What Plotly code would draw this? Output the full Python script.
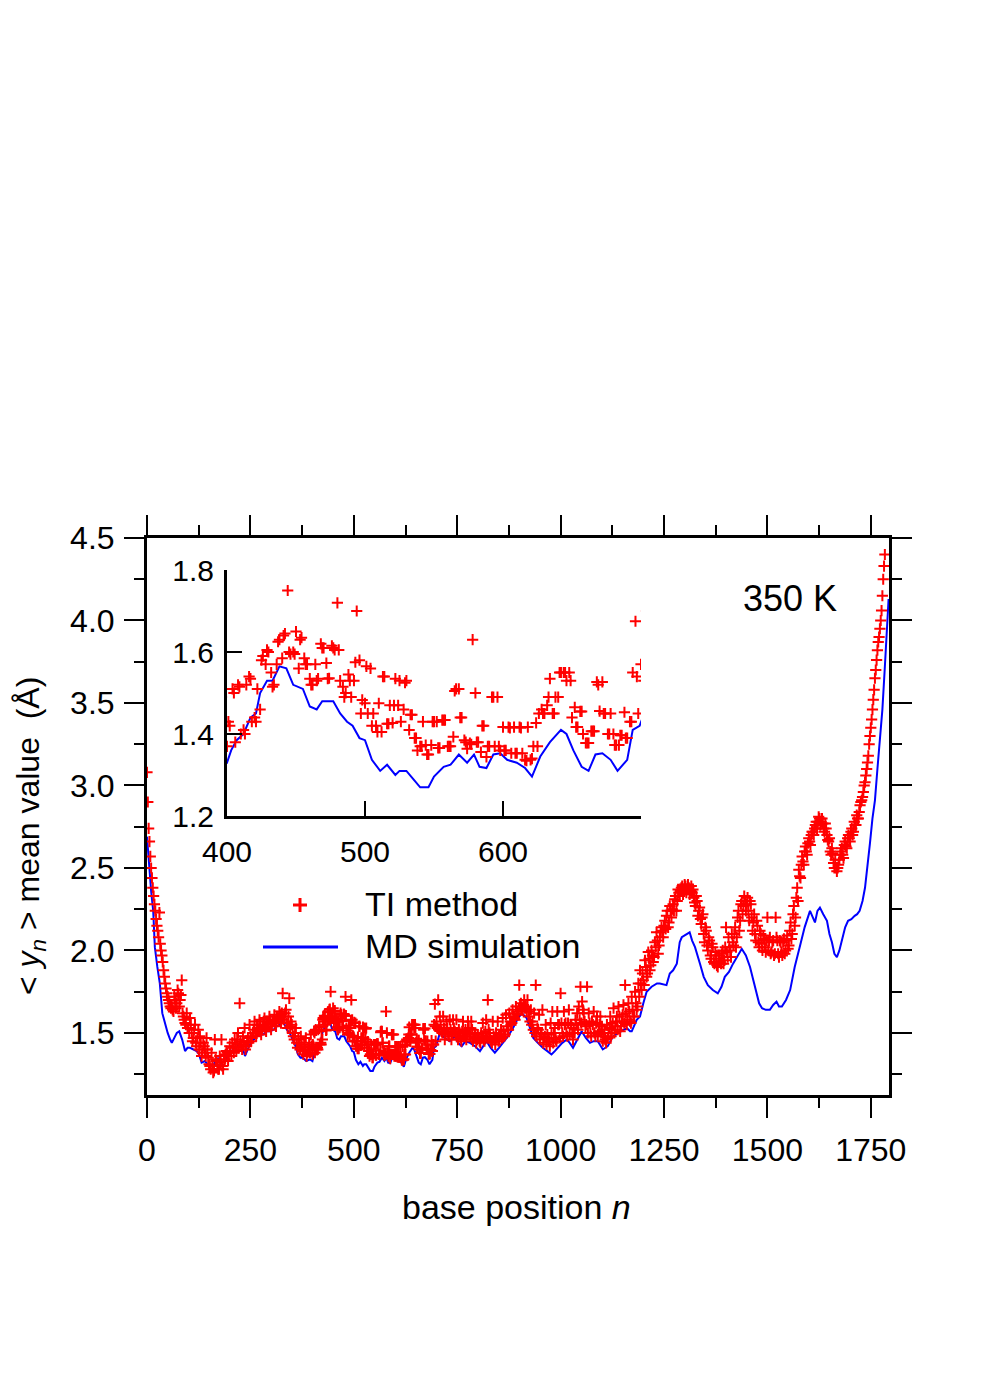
import plotly.graph_objects as go

# ---------------- data ----------------
md_n = [0, 5, 10, 15, 19, 25, 31, 37, 43, 50,
        56, 60, 66, 72, 78, 85, 92, 98, 104, 112,
        120, 126, 132, 140, 146, 152, 158, 164, 168, 172,
        178, 186, 193, 200, 208, 216, 225, 231, 237, 245,
        254, 262, 270, 281, 290, 298, 306, 314, 320, 326,
        332, 338, 345, 353, 359, 365, 371, 377, 385, 394,
        400, 403, 407, 412, 417, 421, 424, 429, 433, 438,
        443, 448, 455, 460, 465, 469, 477, 482, 487, 491,
        496, 500, 505, 511, 516, 522, 525, 530, 535, 540,
        546, 550, 557, 562, 568, 574, 579, 583, 588, 593,
        598, 603, 610, 616, 621, 627, 634, 642, 646, 651,
        657, 662, 667, 672, 678, 683, 690, 694, 699, 708,
        720, 732, 744, 752, 761, 770, 781, 793, 805, 813,
        821, 831, 841, 851, 861, 873, 885, 895, 906, 918,
        926, 934, 945, 957, 968, 978, 986, 994, 1004, 1015,
        1022, 1030, 1040, 1051, 1061, 1071, 1080, 1090, 1102, 1114,
        1127, 1140, 1151, 1160, 1168, 1172, 1184, 1192, 1200, 1208,
        1220, 1233, 1240, 1252, 1256, 1264, 1272, 1281, 1288, 1293,
        1300, 1312, 1318, 1325, 1337, 1346, 1356, 1368, 1380, 1389,
        1397, 1407, 1417, 1428, 1438, 1448, 1458, 1466, 1474, 1480,
        1487, 1496, 1506, 1514, 1522, 1528, 1535, 1545, 1555, 1566,
        1578, 1590, 1603, 1609, 1615, 1621, 1627, 1635, 1644, 1650,
        1656, 1662, 1668, 1674, 1680, 1688, 1695, 1703, 1711, 1717,
        1723, 1730, 1736, 1742, 1748, 1754, 1760, 1766, 1772, 1778,
        1784, 1789, 1793]

md_y = [2.69, 2.50, 2.36, 2.24, 2.02, 1.90, 1.80, 1.62, 1.56, 1.50,
        1.46, 1.44, 1.47, 1.50, 1.51, 1.46, 1.39, 1.41, 1.41, 1.40,
        1.39, 1.37, 1.32, 1.33, 1.31, 1.29, 1.27, 1.33, 1.30, 1.35,
        1.31, 1.33, 1.35, 1.38, 1.40, 1.41, 1.44, 1.41, 1.36, 1.41,
        1.45, 1.47, 1.49, 1.49, 1.51, 1.51, 1.52, 1.54, 1.55, 1.59,
        1.55, 1.52, 1.50, 1.46, 1.42, 1.37, 1.35, 1.35, 1.33, 1.34,
        1.33, 1.36, 1.385, 1.40, 1.44, 1.45, 1.50, 1.53, 1.53, 1.565,
        1.56, 1.52, 1.51, 1.467, 1.46, 1.48, 1.48, 1.45, 1.43, 1.42,
        1.39, 1.385, 1.337, 1.31, 1.325, 1.30, 1.31, 1.31, 1.29, 1.27,
        1.27, 1.296, 1.32, 1.325, 1.35, 1.33, 1.35, 1.32, 1.317, 1.35,
        1.353, 1.337, 1.33, 1.317, 1.296, 1.345, 1.38, 1.41, 1.40, 1.36,
        1.32, 1.31, 1.35, 1.353, 1.337, 1.31, 1.337, 1.41, 1.42, 1.50,
        1.47, 1.45, 1.48, 1.44, 1.42, 1.45, 1.44, 1.42, 1.39, 1.42,
        1.45, 1.41, 1.38, 1.41, 1.44, 1.48, 1.53, 1.58, 1.62, 1.59,
        1.53, 1.47, 1.44, 1.41, 1.39, 1.37, 1.39, 1.41, 1.44, 1.46,
        1.44, 1.41, 1.46, 1.51, 1.47, 1.44, 1.45, 1.45, 1.40, 1.42,
        1.48, 1.50, 1.52, 1.53, 1.51, 1.51, 1.58, 1.60, 1.68, 1.75,
        1.78, 1.80, 1.80, 1.79, 1.79, 1.86, 1.88, 1.92, 2.05, 2.08,
        2.09, 2.11, 2.06, 2.02, 1.92, 1.84, 1.79, 1.76, 1.74, 1.78,
        1.84, 1.87, 1.92, 1.97, 2.01, 1.97, 1.90, 1.82, 1.74, 1.68,
        1.65, 1.64, 1.64, 1.67, 1.69, 1.66, 1.66, 1.70, 1.76, 1.90,
        2.02, 2.14, 2.24, 2.20, 2.17, 2.24, 2.26, 2.22, 2.18, 2.10,
        2.05, 1.98, 1.96, 2.00, 2.06, 2.14, 2.18, 2.19, 2.21, 2.22,
        2.24, 2.30, 2.38, 2.50, 2.65, 2.80, 2.91, 3.10, 3.28, 3.46,
        3.72, 3.95, 4.13]

# TI method: bases 0..58, every 2nd base
ti_start_first, ti_start_step = 0, 2
ti_y_start = [3.08, 2.90, 2.74, 2.66, 2.57, 2.50, 2.44, 2.38, 2.33, 2.28,
              2.24, 2.19, 2.15, 2.12, 2.08, 2.23, 2.04, 2.00, 1.97, 1.93,
              1.88, 1.84, 1.80, 1.77, 1.74, 1.72, 1.70, 1.68, 1.66, 1.65]

# TI method: bases 60..396, every 4th base
ti_left_first, ti_left_step = 60, 4
ti_y_left = [1.66, 1.63, 1.70, 1.68, 1.74, 1.70, 1.82, 1.60, 1.56, 1.62,
             1.53, 1.59, 1.50, 1.47, 1.55, 1.42, 1.52, 1.48, 1.36, 1.44,
             1.40, 1.47, 1.35, 1.30, 1.38, 1.26, 1.46, 1.33, 1.28, 1.36,
             1.46, 1.28, 1.34, 1.39, 1.33, 1.42, 1.36, 1.41, 1.46, 1.39,
             1.50, 1.68, 1.43, 1.48, 1.53, 1.42, 1.47, 1.55, 1.45, 1.50,
             1.57, 1.48, 1.53, 1.58, 1.49, 1.54, 1.59, 1.51, 1.56, 1.60,
             1.52, 1.57, 1.61, 1.54, 1.59, 1.63, 1.56, 1.74, 1.60, 1.64,
             1.53, 1.71, 1.57, 1.50, 1.46, 1.53, 1.41, 1.44, 1.48, 1.39,
             1.43, 1.47, 1.38, 1.44, 1.49]

# TI method: bases 62..398, every 4th base (interleaved)
ti_left_b_first, ti_left_b_step = 62, 4
ti_y_left_b = [1.64, 1.72, 1.65, 1.76, 1.66, 1.73, 1.62, 1.58, 1.55, 1.53,
               1.50, 1.55, 1.45, 1.52, 1.44, 1.47, 1.40, 1.44, 1.38, 1.42,
               1.36, 1.40, 1.31,
               1.28, 1.30, 1.27, 1.34, 1.30, 1.28, 1.32, 1.30, 1.36, 1.37,
               1.38, 1.36,
               1.39, 1.44, 1.38, 1.42, 1.46, 1.41, 1.45, 1.40, 1.44, 1.40,
               1.45, 1.44, 1.48, 1.47, 1.52,
               1.50, 1.55, 1.51, 1.55, 1.52, 1.57, 1.53, 1.57, 1.54, 1.58,
               1.55, 1.58, 1.56, 1.60, 1.57, 1.61, 1.62, 1.58,
               1.62, 1.56, 1.60, 1.54, 1.55, 1.48, 1.50, 1.44, 1.46, 1.40,
               1.42, 1.37, 1.40, 1.36, 1.41, 1.38, 1.42]

# TI method: bases 400..698, every 2nd base (inset region)
ti_mid_first, ti_mid_step = 400, 2
ti_y_mid = [1.37, 1.42, 1.51, 1.38, 1.52, 1.40, 1.41, 1.52, 1.54, 1.43,
            1.44, 1.51, 1.46, 1.59, 1.57, 1.60, 1.55, 1.52, 1.57, 1.63,
            1.585, 1.645, 1.75, 1.595, 1.60, 1.65, 1.56, 1.635, 1.585, 1.57,
            1.535, 1.52, 1.57, 1.535, 1.62, 1.61, 1.573, 1.536, 1.615, 1.605,
            1.72, 1.53, 1.515, 1.50, 1.545, 1.49, 1.53, 1.70, 1.58, 1.483,
            1.475, 1.45, 1.56, 1.45, 1.42, 1.475, 1.405, 1.54, 1.425, 1.47,
            1.427, 1.535, 1.47, 1.43, 1.46, 1.53, 1.41, 1.447, 1.39, 1.36,
            1.37, 1.43, 1.373, 1.35, 1.373, 1.43, 1.43, 1.366, 1.434, 1.434,
            1.37, 1.37, 1.393, 1.51, 1.51, 1.44, 1.385, 1.364, 1.378, 1.63,
            1.50, 1.38, 1.356, 1.42, 1.344, 1.37, 1.49, 1.37, 1.49, 1.36,
            1.417, 1.36, 1.417, 1.353, 1.417, 1.353, 1.417, 1.353, 1.337, 1.417,
            1.337, 1.37, 1.427, 1.45, 1.46, 1.45, 1.47, 1.535, 1.45, 1.49,
            1.49, 1.55, 1.55, 1.53, 1.55, 1.44, 1.465, 1.417, 1.455, 1.40,
            1.378, 1.378, 1.407, 1.407, 1.527, 1.456, 1.527, 1.45, 1.40, 1.45,
            1.40, 1.373, 1.373, 1.397, 1.453, 1.39, 1.43, 1.55, 1.675, 1.45]

# TI method: bases 401..697, every 4th base (inset region, interleaved)
ti_mid_b_first, ti_mid_b_step = 401, 4
ti_y_mid_b = [1.43, 1.50, 1.515, 1.40, 1.535, 1.43, 1.58, 1.605, 1.515, 1.625,
              1.64, 1.60, 1.595, 1.63, 1.57, 1.52, 1.53, 1.61, 1.535, 1.61,
              1.605, 1.49, 1.53, 1.575, 1.45, 1.565, 1.42, 1.405, 1.54, 1.425,
              1.47, 1.53, 1.525, 1.447, 1.39, 1.37, 1.35, 1.43, 1.366, 1.434,
              1.37, 1.505, 1.44, 1.38, 1.375, 1.38, 1.42, 1.37, 1.49, 1.37,
              1.36, 1.415, 1.353, 1.415, 1.335, 1.34, 1.37, 1.45, 1.49, 1.45,
              1.55, 1.55, 1.53, 1.417, 1.455, 1.378, 1.407, 1.52, 1.45, 1.40,
              1.373, 1.397, 1.39, 1.43, 1.54]

# TI method: bases 700..1784, every 4th base
ti_right_first, ti_right_step = 700, 4
ti_y_right = [1.57, 1.70, 1.60, 1.51, 1.60, 1.46, 1.57, 1.50, 1.58, 1.46,
              1.58, 1.51, 1.58, 1.46, 1.50, 1.45, 1.57, 1.50, 1.46, 1.57,
              1.50, 1.57, 1.45, 1.50, 1.44, 1.49, 1.45, 1.50, 1.56, 1.45,
              1.58, 1.70, 1.50, 1.45, 1.57, 1.46, 1.50, 1.57, 1.46, 1.52,
              1.59, 1.48, 1.61, 1.52, 1.62, 1.55, 1.64, 1.59, 1.66, 1.62,
              1.79, 1.68, 1.65, 1.70, 1.66, 1.70, 1.63, 1.64, 1.57, 1.62,
              1.79, 1.53, 1.61, 1.50, 1.64, 1.47, 1.55, 1.49, 1.45, 1.56,
              1.63, 1.50, 1.46, 1.63, 1.55, 1.74, 1.50, 1.63, 1.56, 1.48,
              1.64, 1.55, 1.50, 1.53, 1.58, 1.62, 1.66, 1.78, 1.69, 1.62,
              1.54, 1.78, 1.62, 1.50, 1.57, 1.63, 1.48, 1.60, 1.51, 1.60,
              1.54, 1.48, 1.46, 1.55, 1.50, 1.60, 1.52, 1.65, 1.54, 1.60,
              1.66, 1.51, 1.57, 1.67, 1.79, 1.55, 1.68, 1.57, 1.72, 1.60,
              1.75, 1.64, 1.80, 1.88, 1.76, 1.82, 1.94, 1.84, 1.99, 1.88,
              2.00, 1.93, 2.05, 2.11, 1.98, 2.08, 2.14, 2.08, 2.18, 2.21,
              2.14, 2.27, 2.20, 2.28, 2.31, 2.24, 2.37, 2.33, 2.38, 2.34,
              2.40, 2.35, 2.40, 2.34, 2.39, 2.37, 2.29, 2.33, 2.21, 2.26,
              2.16, 2.22, 2.05, 2.12, 2.00, 2.06, 1.95, 2.02, 1.92, 1.97,
              1.90, 1.95, 1.92, 2.00, 1.94, 2.14, 1.96, 2.02, 1.96, 2.05,
              2.10, 2.02, 2.20, 2.12, 2.28, 2.22, 2.33, 2.24, 2.32, 2.18,
              2.28, 2.12, 2.22, 2.06, 2.15, 2.02, 2.10, 2.00, 2.07, 1.99,
              2.20, 2.06, 1.98, 2.05, 1.97, 2.20, 2.06, 1.96, 2.05, 1.97,
              2.07, 2.00, 2.09, 2.03, 2.17, 2.10, 2.27, 2.20, 2.38, 2.49,
              2.44, 2.57, 2.52, 2.63, 2.58, 2.68, 2.64, 2.72, 2.70, 2.76,
              2.74, 2.81, 2.76, 2.80, 2.74, 2.77, 2.70, 2.66, 2.60, 2.62,
              2.53, 2.55, 2.48, 2.52, 2.58, 2.62, 2.56, 2.66, 2.62, 2.70,
              2.66, 2.74, 2.72, 2.76, 2.82, 2.80, 2.88, 2.91, 2.96, 3.02,
              3.10, 3.18, 3.30, 3.40, 3.52, 3.65, 3.76, 3.87, 3.95, 4.06,
              4.25, 4.40]

# TI method: bases 702..1782, every 4th base (interleaved)
ti_right_b_first, ti_right_b_step = 702, 4
ti_y_right_b = [1.53, 1.52, 1.55, 1.50, 1.53,
                1.49, 1.53, 1.48, 1.52, 1.49, 1.53, 1.50, 1.48, 1.52, 1.47,
                1.51, 1.48, 1.52, 1.49, 1.53, 1.48, 1.52, 1.47, 1.50, 1.46,
                1.47, 1.44, 1.48, 1.46, 1.51, 1.48, 1.52, 1.47, 1.44, 1.48,
                1.43, 1.47, 1.45,
                1.49, 1.47, 1.51, 1.49, 1.54, 1.52, 1.57, 1.56, 1.60, 1.58,
                1.63, 1.61, 1.66, 1.64, 1.67, 1.65, 1.63, 1.60,
                1.57, 1.55, 1.52, 1.50, 1.48, 1.52, 1.46, 1.50, 1.44, 1.48,
                1.43, 1.47,
                1.42, 1.50, 1.44, 1.53, 1.45, 1.55, 1.47, 1.56, 1.48, 1.55,
                1.50, 1.56, 1.49, 1.55, 1.46,
                1.50, 1.55, 1.52, 1.58, 1.56, 1.64, 1.57, 1.55,
                1.50, 1.56, 1.48, 1.55, 1.50, 1.56, 1.49, 1.55, 1.50, 1.45,
                1.52, 1.44,
                1.47, 1.53, 1.48, 1.56, 1.50, 1.57, 1.52, 1.60, 1.54, 1.61,
                1.56, 1.62, 1.58, 1.63, 1.56, 1.64, 1.60, 1.68, 1.66, 1.72,
                1.80, 1.86, 1.79, 1.90, 1.86, 1.95, 1.91, 1.97, 1.96, 2.02,
                2.06, 2.03, 2.11, 2.12, 2.15, 2.13, 2.24, 2.17, 2.24, 2.25,
                2.24, 2.33, 2.30,
                2.35, 2.36, 2.39, 2.36, 2.39, 2.37, 2.38, 2.36, 2.35, 2.32,
                2.27, 2.30, 2.24, 2.19, 2.20, 2.10, 2.14, 2.03, 2.08, 1.97,
                2.04, 1.93, 1.99, 1.91,
                1.97, 1.93, 1.98, 1.92, 2.02, 1.99, 2.08, 2.00, 2.10, 2.03,
                2.14, 2.08, 2.24, 2.18, 2.30, 2.27, 2.30, 2.28, 2.24, 2.30,
                2.20,
                2.17, 2.10, 2.18, 2.05, 2.12, 2.04, 2.09, 2.02, 2.06, 2.00,
                2.08, 1.99, 2.06, 1.98, 2.08, 1.98, 2.06, 1.99, 2.05, 1.98,
                2.06, 2.01,
                2.12, 2.07, 2.22, 2.15, 2.32, 2.30, 2.45,
                2.52, 2.54, 2.60, 2.60, 2.65, 2.66, 2.70, 2.72, 2.74, 2.78,
                2.78, 2.80,
                2.78, 2.77, 2.72, 2.74, 2.67, 2.68, 2.58, 2.59, 2.50, 2.50,
                2.50, 2.55, 2.60, 2.58, 2.64, 2.63, 2.68, 2.68, 2.72, 2.70,
                2.78, 2.76, 2.80, 2.84, 2.90, 2.93,
                3.00, 3.06, 3.14, 3.25, 3.35, 3.46, 3.58, 3.70, 3.82, 3.90,
                4.00, 4.15, 4.33]

x_ticks = [0, 250, 500, 750, 1000, 1250, 1500, 1750]
y_ticks = [1.5, 2.0, 2.5, 3.0, 3.5, 4.0, 4.5]
inset_x_ticks = [400, 500, 600]
inset_y_ticks = [1.2, 1.4, 1.6, 1.8]

# ---------------- assemble ----------------
ti_n, ti_y = [], []
for first, step, vals in [(ti_start_first, ti_start_step, ti_y_start),
                          (ti_left_first, ti_left_step, ti_y_left),
                          (ti_left_b_first, ti_left_b_step, ti_y_left_b),
                          (ti_mid_first, ti_mid_step, ti_y_mid),
                          (ti_mid_b_first, ti_mid_b_step, ti_y_mid_b),
                          (ti_right_first, ti_right_step, ti_y_right),
                          (ti_right_b_first, ti_right_b_step, ti_y_right_b)]:
    ti_n += [first + step * i for i in range(len(vals))]
    ti_y += vals

m = min(len(md_n), len(md_y))
md_n, md_y = md_n[:m], md_y[:m]

FONT = "Liberation Sans, Arial, Helvetica, sans-serif"
RED = "#ff0000"
BLUE = "#0000ff"

# page body has an 8px default margin; compensate so the figure lands in place
OFF = 8
W, H = 981 - OFF, 1379 - OFF
PL, PR, PT, PB = 147, 889, 538, 1095  # plot area in reference pixels
L, T = PL - OFF, PT - OFF
R = W - L - (PR - PL)
B = H - T - (PB - PT)


def px(xp):
    return (xp - PL) / (PR - PL)


def py(yp):
    return (PB - yp) / (PB - PT)


fig = go.Figure()
for xa, ya in [("x", "y"), ("x2", "y2")]:
    fig.add_trace(go.Scatter(x=md_n, y=md_y, mode="lines", xaxis=xa, yaxis=ya,
                             line=dict(color=BLUE, width=2), showlegend=False,
                             name="MD simulation"))
    fig.add_trace(go.Scatter(x=ti_n, y=ti_y, mode="markers", xaxis=xa, yaxis=ya,
                             marker=dict(symbol="cross-thin", size=8, color=RED,
                                         line=dict(color=RED, width=2)),
                             showlegend=False, name="TI method"))

axis_common = dict(showgrid=False, zeroline=False, showline=True, linecolor="black",
                   tickcolor="black", tickwidth=2)

fig.update_layout(
    width=W, height=H,
    margin=dict(l=L, r=R, t=T, b=B, pad=0),
    paper_bgcolor="white", plot_bgcolor="white",
    font=dict(family=FONT, color="black"),
    showlegend=False,
    xaxis=dict(domain=[0, 1], range=[0, 1794], tickvals=x_ticks,
               ticktext=[str(v) for v in x_ticks], ticks="outside", ticklen=20,
               linewidth=3, mirror="ticks", tickfont=dict(size=32),
               ticklabelstandoff=5,
               minor=dict(dtick=125, tick0=0, ticks="outside", ticklen=10,
                          tickwidth=2, tickcolor="black"),
               **axis_common),
    yaxis=dict(domain=[0, 1], range=[1.124, 4.5], tickvals=y_ticks,
               ticktext=["%.1f" % v for v in y_ticks], ticks="outside", ticklen=20,
               linewidth=3, mirror="ticks", tickfont=dict(size=32),
               ticklabelstandoff=3,
               minor=dict(dtick=0.25, tick0=0, ticks="outside", ticklen=10,
                          tickwidth=2, tickcolor="black"),
               **axis_common),
    xaxis2=dict(domain=[px(227), px(641)], anchor="y2", range=[400, 700],
                tickvals=inset_x_ticks, ticktext=[str(v) for v in inset_x_ticks],
                ticks="inside", ticklen=15, linewidth=3, mirror=False,
                tickfont=dict(size=30), ticklabelstandoff=7, **axis_common),
    yaxis2=dict(domain=[py(816), py(570)], anchor="x2", range=[1.2, 1.8],
                tickvals=inset_y_ticks, ticktext=["%.1f" % v for v in inset_y_ticks],
                ticks="inside", ticklen=15, linewidth=3, mirror=False,
                tickfont=dict(size=30), ticklabelstandoff=4, **axis_common),
)

annotations = [
    dict(text="base position <i>n</i>", x=px(516), y=py(1207), xref="paper", yref="paper",
         showarrow=False, font=dict(size=34), xanchor="center", yanchor="middle"),
    dict(text="&lt; <i>y<sub>n</sub></i> &gt; mean value  (Å)", x=px(30), y=py(836),
         xref="paper", yref="paper", showarrow=False, textangle=-90,
         font=dict(size=32), xanchor="center", yanchor="middle"),
    dict(text="350 K", x=px(790), y=py(598), xref="paper", yref="paper",
         showarrow=False, font=dict(size=36), xanchor="center", yanchor="middle"),
    dict(text="TI method", x=px(363), y=py(904), xref="paper", yref="paper",
         showarrow=False, font=dict(size=34), xanchor="left", yanchor="middle"),
    dict(text="MD simulation", x=px(363), y=py(946), xref="paper", yref="paper",
         showarrow=False, font=dict(size=34), xanchor="left", yanchor="middle"),
]
fig.update_layout(annotations=annotations)

shapes = [
    # legend: red cross
    dict(type="line", xref="paper", yref="paper", x0=px(293), x1=px(307),
         y0=py(905), y1=py(905), line=dict(color=RED, width=3)),
    dict(type="line", xref="paper", yref="paper", x0=px(300), x1=px(300),
         y0=py(898), y1=py(912), line=dict(color=RED, width=3)),
    # legend: blue line
    dict(type="line", xref="paper", yref="paper", x0=px(263), x1=px(338),
         y0=py(947), y1=py(947), line=dict(color=BLUE, width=3)),
]
fig.update_layout(shapes=shapes)

fig.write_html("out.html")
